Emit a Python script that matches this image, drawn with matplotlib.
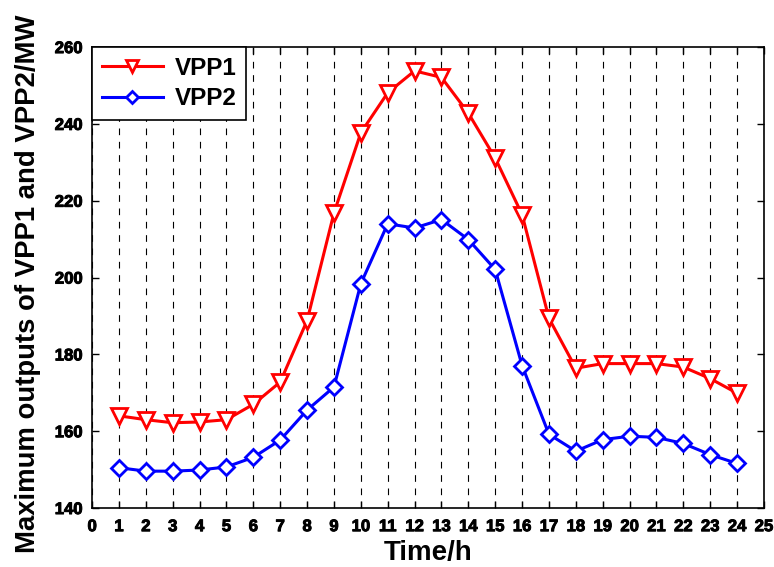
import matplotlib.pyplot as plt
import matplotlib.patheffects as pe

hours = list(range(1, 25))
vpp1 = [164.0, 163.0, 162.2, 162.4, 163.0, 167.0, 172.8, 188.8, 216.8, 237.7, 248.1, 253.8,
        252.1, 242.8, 231.1, 216.4, 189.4, 176.4, 177.6, 177.6, 177.6, 176.7, 173.7, 169.9]
vpp2 = [150.5, 149.6, 149.6, 149.9, 150.7, 153.2, 157.7, 165.5, 171.5, 198.4, 214.0, 212.9,
        215.1, 209.9, 202.1, 177.1, 159.2, 154.8, 157.8, 158.7, 158.4, 156.8, 153.9, 151.6]
xticks = list(range(0, 26))
yticks = [140, 160, 180, 200, 220, 240, 260]

plt.rcParams['font.family'] = ['Liberation Sans', 'DejaVu Sans']
plt.rcParams['font.weight'] = 'bold'

fig = plt.figure(figsize=(7.74, 5.67), dpi=100)
ax = fig.add_axes([0.119, 0.104, 0.868, 0.813])

ax.plot(hours, vpp1, color='red', lw=2.2, marker='v', ms=11, mfc='white', mew=2, label='VPP1')
ax.plot(hours, vpp2, color='blue', lw=2.2, marker='D', ms=8, mfc='white', mew=2, label='VPP2')

ax.set_xlim(0, 25)
ax.set_ylim(140, 260)
ax.set_xticks(xticks, labels=[str(v) for v in xticks], fontweight='bold', fontsize=12)
ax.set_yticks(yticks, labels=[str(v) for v in yticks], fontweight='bold', fontsize=12)
# thicken the small tick labels a little
for lab in ax.get_xticklabels() + ax.get_yticklabels():
    lab.set_path_effects([pe.withStroke(linewidth=0.7, foreground='black')])
ax.tick_params(direction='in', top=True, right=True, length=5, width=1)
ax.tick_params(axis='x', pad=8)
ax.tick_params(axis='y', pad=7)
ax.xaxis.grid(True, color='black', linestyle=(0, (6, 6)), lw=0.8)
for s in ax.spines.values():
    s.set_linewidth(1.2)

ax.set_xlabel('Time/h', fontsize=20, fontweight='bold', labelpad=4)
ax.set_ylabel('Maximum outputs of VPP1 and VPP2/MW', fontsize=19.8, fontweight='bold')
ax.yaxis.set_label_coords(-0.076, 0.487)

leg = ax.legend(loc='upper left', fontsize=17.5, handlelength=2.5, borderaxespad=0,
                fancybox=False, framealpha=1, edgecolor='black', borderpad=0.4,
                labelspacing=0.3, handletextpad=0.5, markerscale=0.8)
leg.get_frame().set_linewidth(1.2)
for t in leg.get_texts():
    t.set_fontweight('bold')

fig.savefig('out.png', dpi=100)
